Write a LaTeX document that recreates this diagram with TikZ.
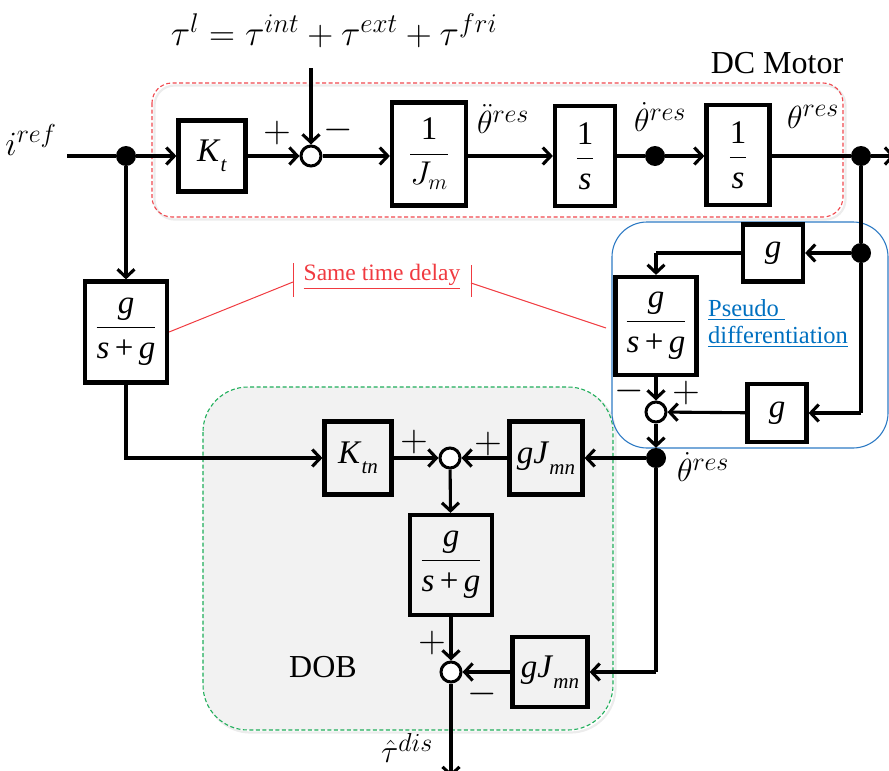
\RequirePackage{fix-cm}
\documentclass[tikz,border=0pt]{standalone}
\usepackage{amsmath}
\usepackage{fontspec}
\setmainfont{Liberation Serif}
\usetikzlibrary{arrows.meta,calc}
\DeclareMathSizes{32}{32}{26}{19}
\DeclareMathSizes{34}{34}{26}{19}
\DeclareMathSizes{36}{36}{27}{20}
\DeclareMathSizes{33}{33}{22}{16}
\definecolor{motorred}{HTML}{F0484E}
\definecolor{dobgreen}{HTML}{1FAE5A}
\definecolor{pdblue}{HTML}{2E7BC4}
\definecolor{pdtext}{HTML}{0070C0}
\definecolor{tdred}{HTML}{F03A40}
% italic block variables with a lowered, smaller subscript
\newcommand{\bvar}[2]{\textit{#1}\raisebox{-0.32em}{\fontsize{21}{21}\selectfont\textit{#2}}}
\newcommand{\lagfrac}{$\dfrac{\textit{g}}{\text{\itshape s\,\upshape+\,\itshape g}}$}
\begin{document}
\begin{tikzpicture}[x=1pt,y=-1pt,
  wire/.style={line width=3.1pt},
  arr/.style={wire,-{Straight Barb[length=8pt,width=17pt]}},
  blk/.style={draw,line width=4.2pt,inner sep=0pt,font=\fontsize{33}{36}\selectfont},
  sumj/.style={circle,draw,line width=3pt,fill=white,minimum size=20pt,inner sep=0pt},
  dotj/.style={circle,fill=black,minimum size=20pt,inner sep=0pt},
  lbl/.style={font=\fontsize{32}{34}\selectfont,inner sep=0pt},
  plus/.style={font=\fontsize{38}{40}\selectfont,inner sep=0pt},
  minus/.style={font=\fontsize{38}{40}\selectfont,inner sep=0pt},
  txt/.style={font=\fontsize{32}{36}\selectfont,inner sep=0pt},
  region/.style={line width=1.1pt},
  note/.style={tdred,line width=1pt},
]
\useasboundingbox (0,0) rectangle (889,771);

% grouping frames
\draw[gray!15,line width=2.2pt,rounded corners=45pt] (205.5,389.5) rectangle (615.5,732.5);
\draw[region,fill=gray!10,draw=dobgreen,dash pattern=on 4pt off 2.5pt,rounded corners=45pt]
  (203,387) rectangle (613,730);
\draw[gray!15,line width=2.2pt,rounded corners=20pt] (154.5,85.5) rectangle (845.5,219.5);
\draw[region,draw=motorred,dash pattern=on 4pt off 2.5pt,rounded corners=20pt]
  (152,83) rectangle (843,217);
\draw[region,draw=pdblue,rounded corners=35pt] (612,222) rectangle (888,448);

% forward path of the motor
\coordinate (in) at (67,156);
\node[dotj] (d0) at (126,156) {};
\node[blk,minimum width=67pt,minimum height=71pt] (kt) at (212,156) {\bvar{K}{t}};
\node[sumj] (s1) at (311,156) {};
\coordinate (tautop) at (311,68);
\node[blk,minimum width=74pt,minimum height=103pt] (jm) at (429,154) {$\dfrac{\text{1}}{J_m}$};
\node[blk,minimum width=60pt,minimum height=100pt] (int1) at (585,156) {$\dfrac{\text{1}}{\textit{s}}$};
\node[dotj] (d1) at (655,156) {};
\node[blk,minimum width=63pt,minimum height=100pt] (int2) at (738,155) {$\dfrac{\text{1}}{\textit{s}}$};
\node[dotj] (d2) at (861,156) {};
\coordinate (out) at (895,156);

% delay filter on the reference
\node[blk,minimum width=82pt,minimum height=101pt] (lpf) at (126,332) {\lagfrac};

% disturbance observer
\node[blk,minimum width=67pt,minimum height=73pt] (ktn) at (358,458) {\bvar{K}{tn}};
\node[sumj] (s2) at (450,458) {};
\node[blk,minimum width=73pt,minimum height=73pt] (gj1) at (546,458) {\bvar{gJ}{mn}};
\node[dotj] (d3) at (656,458) {};
\node[blk,minimum width=82pt,minimum height=100pt] (qf) at (451,565) {\lagfrac};
\node[sumj] (s3) at (451,672) {};
\node[blk,minimum width=75pt,minimum height=70pt] (gj2) at (550,672) {\bvar{gJ}{mn}};
\coordinate (c2) at (656,672);
\coordinate (bot) at (451,777);

% pseudo differentiation
\node[dotj] (d4) at (861,253) {};
\node[blk,minimum width=60pt,minimum height=57pt] (g1) at (773,253) {\textit{g}};
\coordinate (c3) at (656,253);
\node[blk,minimum width=81pt,minimum height=98pt] (pf) at (656,326) {\lagfrac};
\node[sumj] (s4) at (656,412) {};
\node[blk,minimum width=59pt,minimum height=58pt] (g2) at (777,413) {\textit{g}};
\coordinate (c4) at (861,413);

% connectors
\draw[wire] (in) -- (d0);
\draw[arr] (d0) -- (kt);
\draw[arr] (kt) -- (s1);
\draw[arr] (tautop) -- (s1);
\draw[arr] (s1) -- (s1 -| jm.west);
\draw[arr] (jm.east |- int1) -- (int1);
\draw[wire] (int1) -- (d1);
\draw[arr] (d1) -- (int2.west |- d1);
\draw[wire] (int2.east |- d2) -- (d2);
\draw[arr] (d2) -- (out);

\draw[arr] (d0) -- (lpf);
\draw[arr] (lpf) |- (ktn);
\draw[arr] (ktn) -- (s2);
\draw[arr] (gj1) -- (s2);
\draw[arr] (d3) -- (gj1);
\draw[arr] (s2) -- (qf);
\draw[arr] (qf) -- (s3);
\draw[wire] (d3) -- (c2);
\draw[arr] (c2) -- (gj2);
\draw[arr] (gj2) -- (s3);
\draw[arr] (s3) -- (bot);

\draw[wire] (d2) -- (d4);
\draw[wire] (d4) -- (c4);
\draw[arr] (d4) -- (g1);
\draw[wire] (g1) -- (c3);
\draw[arr] (c3) -- (pf);
\draw[arr] (pf) -- (s4);
\draw[arr] (c4) -- (g2);
\draw[arr] (g2) -- (s4);
\draw[arr] (s4) -- (d3);

% signal labels
\node[font=\fontsize{34}{36}\selectfont,inner sep=0pt] (iref) at (31,140) {$i^{ref}$};
\node[font=\fontsize{36}{40}\selectfont,inner sep=0pt] (taueq) at (334,31)
  {$\tau^{l}=\tau^{int}+\tau^{ext}+\tau^{fri}$};
\node[plus] (p1) at (277,133) {$+$};
\node[minus] (m1) at (338,130) {$-$};
\node[lbl] (acc) at (503,119) {$\ddot{\theta}^{res}$};
\node[lbl] (vel) at (660,117) {$\dot{\theta}^{res}$};
\node[lbl] (pos) at (813,117) {$\theta^{res}$};
\node[txt] (dcm) at (777,63) {DC Motor};

\node[minus] (m4) at (629,391) {$-$};
\node[plus] (p4) at (686,393) {$+$};
\node[font=\fontsize{24.5}{27}\selectfont,text=pdtext,align=left,anchor=north west,inner sep=0pt]
  (pdl) at (708,299) {\underline{Pseudo }\\\underline{differentiation}};

\node[plus] (p2) at (414,442) {$+$};
\node[plus] (p3) at (488,444) {$+$};
\node[lbl] (vel2) at (703,467) {$\dot{\theta}^{res}$};
\node[txt] (dob) at (323,667) {DOB};
\node[plus] (p5) at (432,643) {$+$};
\node[minus] (m5) at (482,694) {$-$};
\node[lbl] (dis) at (407,748) {$\hat{\tau}^{dis}$};

% delay annotation
\node[font=\fontsize{23.5}{26}\selectfont,text=tdred,inner sep=0pt] (std) at (382,277)
  {\underline{Same time delay}};
\coordinate (tka) at (293,263);
\coordinate (tkb) at (293,297);
\coordinate (tkc) at (293,282);
\coordinate (tkd) at (471,265);
\coordinate (tke) at (471,297);
\coordinate (tkf) at (471,283);
\coordinate (pfl) at (606,328);
\draw[note] (tka) -- (tkb);
\draw[note] (tkd) -- (tke);
\draw[note] (tkc) -- (lpf.east);
\draw[note] (tkf) -- (pfl);
\end{tikzpicture}
\end{document}
